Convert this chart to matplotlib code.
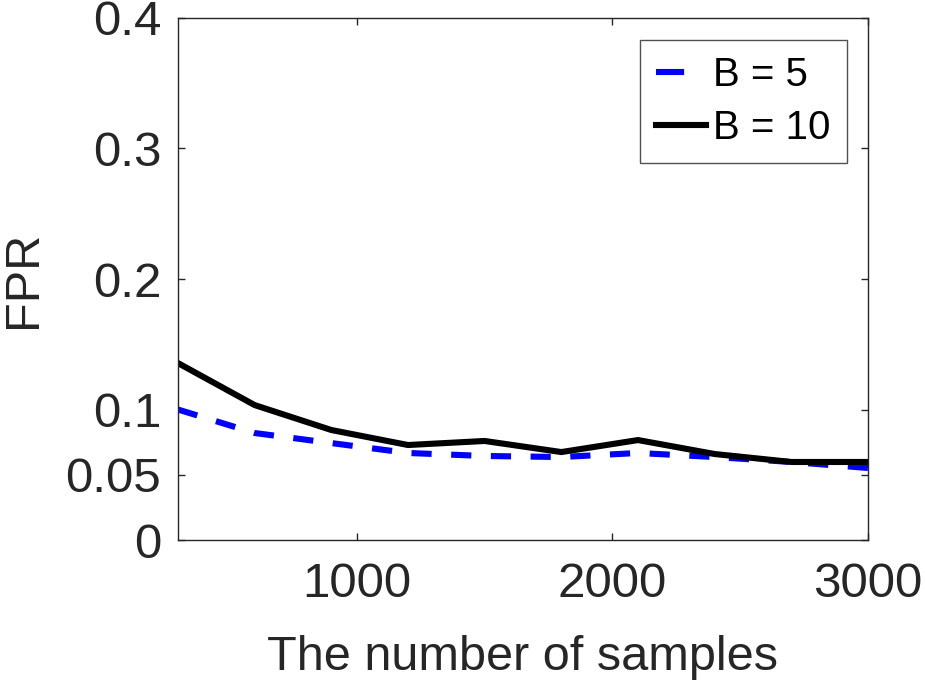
import matplotlib
matplotlib.use('Agg')
import matplotlib.pyplot as plt
from matplotlib.lines import Line2D

plt.rcParams['font.family'] = ['Liberation Sans', 'DejaVu Sans']

samples = [300, 600, 900, 1200, 1500, 1800, 2100, 2400, 2700, 3000]
fpr_b5 = [0.100, 0.082, 0.0743, 0.0667, 0.0644, 0.0636, 0.0667, 0.0636, 0.0598, 0.0552]
fpr_b10 = [0.1356, 0.1034, 0.0843, 0.0728, 0.0759, 0.0674, 0.0766, 0.0659, 0.0598, 0.0598]

yticks = [0, 0.05, 0.1, 0.2, 0.3, 0.4]
ytick_labels = ['0', '0.05', '0.1', '0.2', '0.3', '0.4']
xticks = [1000, 2000, 3000]

fig = plt.figure(figsize=(9.25, 6.81), dpi=100)
ax = fig.add_axes([0.1924, 0.207, 0.746, 0.7666])

ax.plot(samples, fpr_b5, color='#0000ff', lw=4.4, linestyle=(0, (3.3, 3.2)))
ax.plot(samples, fpr_b10, color='black', lw=4.4)

ax.set_xlim(300, 3000)
ax.set_ylim(0, 0.4)
ax.set_xticks(xticks)
ax.set_xticklabels([str(t) for t in xticks])
ax.set_yticks(yticks)
ax.set_yticklabels(ytick_labels)

dark = '#262626'
ax.tick_params(direction='in', length=5, width=1, colors=dark, labelsize=35.5,
               top=True, right=True)
ax.tick_params(axis='x', pad=16)
ax.tick_params(axis='y', pad=12)
for s in ax.spines.values():
    s.set_color(dark)
    s.set_linewidth(1)

ax.set_xlabel('The number of samples', fontsize=35, color=dark, labelpad=20)
ax.set_ylabel('FPR', fontsize=35, color=dark, labelpad=14)

# legend handles drawn like the reference (short single dash for B = 5)
handles = [Line2D([], [], color='#0000ff', lw=4.4, linestyle=(0, (4.6, 20))),
           Line2D([], [], color='black', lw=4.4)]
leg = ax.legend(handles, ['B = 5', 'B = 10'], loc='upper right',
                bbox_to_anchor=(0.9696, 0.958), fontsize=29,
                frameon=True, fancybox=False, handlelength=1.25, handletextpad=0.18,
                borderpad=0.4, labelspacing=0.38, borderaxespad=0)
leg.get_frame().set_edgecolor(dark)
leg.get_frame().set_linewidth(1)

fig.savefig('out.png', dpi=100)
